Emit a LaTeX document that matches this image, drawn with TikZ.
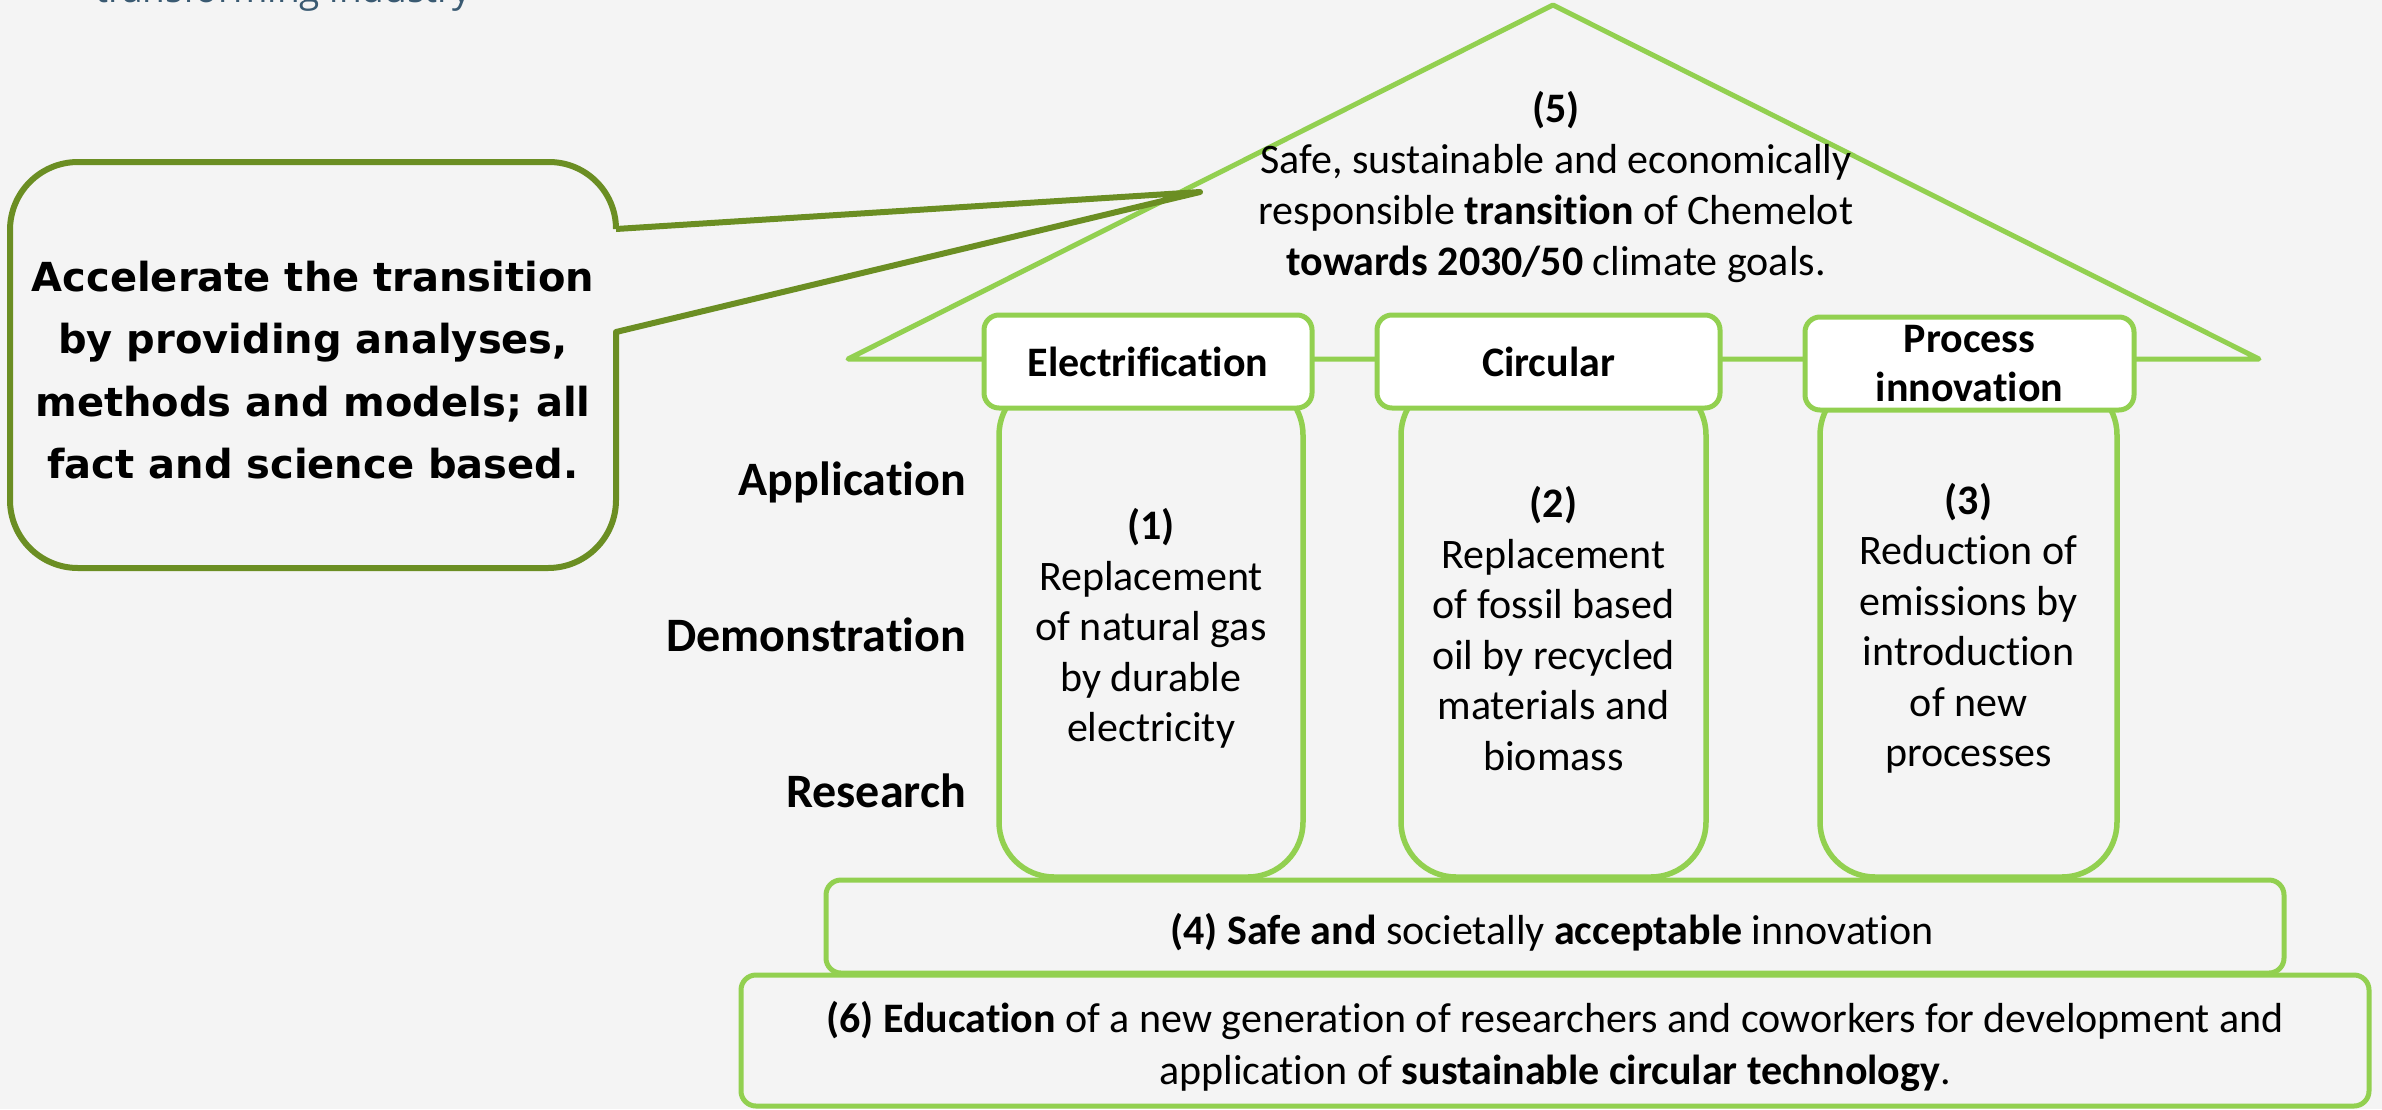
\documentclass[tikz,border=0pt]{standalone}
\usepackage{fontspec}
\setmainfont{Carlito}[Ligatures={NoCommon}]
\newfontfamily\callfont{DejaVu Sans}
\newfontfamily\topfont{Open Sans}
\definecolor{bg}{HTML}{F4F4F4}
\definecolor{lgreen}{HTML}{92D050}
\definecolor{olivec}{HTML}{6B8E23}
\definecolor{topblue}{HTML}{3A5A72}
\begin{document}
\begin{tikzpicture}[x=1pt,y=-1pt,
  every node/.style={inner sep=0pt, outer sep=0pt},
  tri/.style={draw=lgreen, line width=5pt, line join=round},
  hdr/.style={draw=lgreen, line width=5pt, fill=white, rounded corners=15pt, minimum height=93pt, font=\fontsize{42}{49}\selectfont\bfseries, align=center},
  pillar/.style={draw=lgreen, line width=5.5pt, rounded corners=55pt, minimum height=497pt, font=\fontsize{42}{50.5}\selectfont, align=center},
  plat/.style={draw=lgreen, line width=5pt, rounded corners=15pt},
  plattext/.style={font=\fontsize{42}{52}\selectfont, align=center},
  lvl/.style={anchor=base east, font=\fontsize{48}{50}\selectfont\bfseries},
  callout/.style={draw=olivec, line width=6pt, line join=round},
  calltext/.style={font=\callfont\bfseries\fontsize{40}{62.5}\selectfont, align=center}
]
\useasboundingbox (0,0) rectangle (2382,1109);
\fill[bg] (0,0) rectangle (2382,1109);

\node[anchor=base west, font=\topfont\fontsize{37}{40}\selectfont, text=topblue] (tt) at (95,2) {transforming industry};

% roof
\draw[tri] (1553,5) -- (2259,359) -- (848,359) -- cycle;
\node[font=\fontsize{42}{51}\selectfont, align=center] (t5) at (1556,187)
  {\textbf{(5)}\\Safe, sustainable and economically\\responsible \textbf{transition} of Chemelot\\\textbf{towards 2030/50} climate goals.};

% pillars
\node[pillar, minimum width=304pt] (p1) at (1151,628.5)
  {\textbf{(1)}\\Replacement\\of natural gas\\by durable\\electricity};
\node[pillar, minimum width=305pt] (p2) at (1553.5,628.5)
  {\textbf{(2)}\\Replacement\\of fossil based\\oil by recycled\\materials and\\biomass};
\node[pillar, minimum width=297pt] (p3) at (1968.5,628.5)
  {\textbf{(3)}\\Reduction of\\emissions by\\introduction\\of new\\processes};

% headers
\node[hdr, minimum width=328pt] (h1) at (1148,361.5) {Electrification};
\node[hdr, minimum width=343pt] (h2) at (1548.5,361.5) {Circular};
\node[hdr, minimum width=329pt] (h3) at (1969.5,363.5) {Process\\innovation};

% platforms
\node[plat, minimum width=1458pt, minimum height=93pt] (b4) at (1555,926.5) {};
\node[plattext] (t4) at (1552,932)
  {\textbf{(4) Safe and} societally \textbf{acceptable} innovation};
\node[plat, minimum width=1628pt, minimum height=131pt] (b6) at (1555,1040.5) {};
\node[plattext] (t6) at (1555,1046.5)
  {\textbf{(6) Education} of a new generation of researchers and coworkers for development and\\application of \textbf{sustainable circular technology}.};

% levels
\node[lvl] (la) at (966,495) {Application};
\node[lvl] (ld) at (966,651) {Demonstration};
\node[lvl] (lr) at (966,807) {Research};

% callout
\draw[callout] (616,229) -- (1200,192) -- (616,332) -- (616,500)
  .. controls (616,537.6) and (585.6,568) .. (548,568) -- (78,568)
  .. controls (40.4,568) and (10,537.6) .. (10,500) -- (10,230)
  .. controls (10,192.4) and (40.4,162) .. (78,162) -- (549,162)
  .. controls (586,162) and (616,192) .. (616,229);
\node[calltext] (ct) at (313,370)
  {Accelerate the transition\\by providing analyses,\\methods and models; all\\fact and science based.};
\end{tikzpicture}
\end{document}
